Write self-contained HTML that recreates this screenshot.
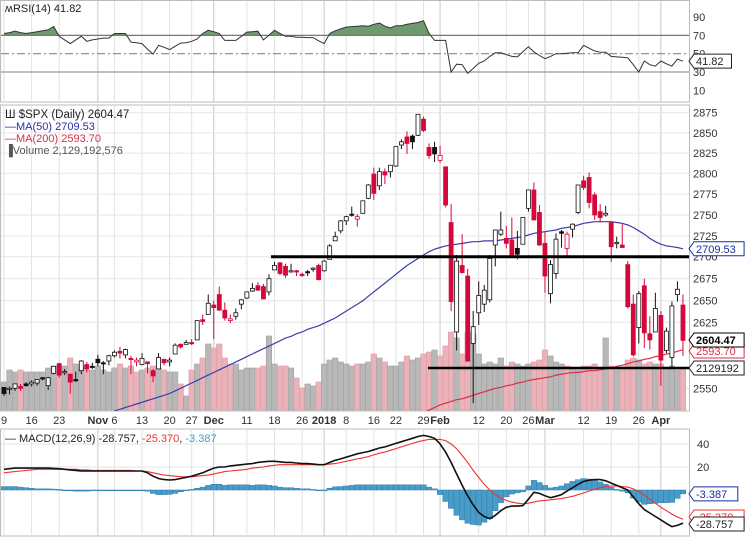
<!DOCTYPE html>
<html><head><meta charset="utf-8"><style>
html,body{margin:0;padding:0;background:#fff;}
svg{display:block;font-family:"Liberation Sans",sans-serif;}
</style></head><body>
<svg id="c" width="745" height="537" viewBox="0 0 745 537"></svg>
<script>
const opens=[2551,2549,2550,2552,2555,2555,2556,2562,2553,2567,2578,2568,2566,2560,2570,2577,2575,2583,2579,2581,2587,2592,2588,2584,2580,2577,2580,2570,2572,2583,2580,2589,2600,2600,2602,2605,2628,2634,2645,2657,2639,2627,2632,2646,2653,2661,2667,2666,2660,2685,2693,2689,2683,2684,2680,2683,2686,2690,2684,2697,2719,2731,2743,2751,2745,2752,2770,2799,2785,2802,2802,2809,2835,2845,2846,2847,2867,2832,2832,2816,2808,2741,2614,2690,2678,2601,2636,2646,2651,2714,2727,2722,2720,2710,2715,2758,2780,2753,2716,2658,2681,2730,2710,2733,2753,2791,2795,2774,2754,2750,2741,2716,2714,2691,2646,2619,2667,2612,2614,2633,2593,2585,2657,2645];
const highs=[2551,2552,2555,2555,2557,2559,2560,2563,2563,2575,2579,2572,2567,2569,2582,2580,2579,2588,2581,2588,2593,2597,2595,2587,2585,2590,2580,2572,2590,2583,2585,2601,2601,2605,2606,2627,2634,2657,2650,2666,2648,2634,2641,2652,2660,2670,2671,2669,2680,2694,2694,2692,2692,2685,2682,2685,2688,2692,2696,2715,2730,2744,2749,2760,2751,2767,2787,2807,2807,2806,2810,2833,2842,2852,2848,2873,2870,2837,2839,2834,2808,2763,2702,2727,2686,2638,2672,2668,2702,2732,2754,2737,2747,2731,2747,2780,2789,2762,2730,2696,2728,2732,2730,2740,2786,2797,2801,2777,2763,2761,2741,2724,2739,2695,2657,2661,2675,2632,2659,2638,2619,2649,2672,2657];
const lows=[2541,2543,2547,2547,2552,2552,2553,2559,2548,2566,2562,2565,2544,2557,2566,2568,2572,2575,2566,2576,2585,2584,2584,2566,2575,2576,2567,2557,2572,2576,2575,2589,2595,2600,2599,2605,2622,2634,2606,2639,2627,2624,2628,2640,2652,2660,2661,2652,2656,2685,2679,2676,2682,2678,2677,2678,2683,2673,2683,2697,2719,2728,2738,2748,2736,2752,2769,2768,2780,2787,2795,2808,2830,2824,2830,2846,2851,2818,2814,2813,2759,2638,2593,2681,2580,2533,2622,2637,2648,2689,2725,2710,2701,2697,2715,2754,2744,2713,2659,2647,2675,2711,2701,2723,2751,2780,2758,2744,2741,2748,2694,2710,2711,2641,2586,2601,2596,2594,2614,2553,2590,2573,2649,2587];
const closes=[2544,2550,2555,2550,2553,2557,2560,2561,2562,2575,2565,2569,2557,2560,2581,2572,2575,2579,2579,2587,2591,2590,2594,2584,2582,2584,2578,2564,2585,2579,2582,2599,2597,2602,2601,2627,2626,2647,2642,2639,2630,2629,2636,2651,2660,2664,2662,2652,2675,2690,2681,2679,2684,2683,2680,2682,2687,2674,2695,2713,2724,2743,2748,2751,2748,2767,2786,2776,2802,2798,2810,2833,2839,2837,2839,2873,2853,2822,2824,2822,2762,2649,2695,2682,2581,2620,2656,2662,2698,2732,2732,2716,2702,2703,2747,2780,2744,2714,2678,2691,2721,2728,2727,2739,2786,2783,2765,2750,2747,2752,2712,2717,2711,2643,2588,2658,2613,2605,2641,2582,2615,2644,2663,2604.47];
const volumes=[1.4,2.0,1.9,2.0,1.9,1.9,1.9,1.9,2.1,2.2,2.1,2.2,2.6,2.3,2.2,2.0,2.0,2.2,2.0,1.9,2.1,2.3,2.1,2.2,1.9,2.0,2.1,2.2,2.1,2.0,1.9,1.9,1.3,0.7,2.0,2.3,2.6,3.3,3.1,3.3,2.6,2.3,2.3,2.0,2.1,2.1,2.1,2.2,3.7,2.3,2.2,2.2,2.1,1.6,1.1,1.3,1.2,1.4,2.3,2.5,2.6,2.4,2.3,2.2,2.3,2.3,2.4,2.8,2.6,2.4,2.2,2.2,2.4,2.7,2.5,2.6,2.8,2.9,3.0,2.7,3.2,3.9,3.6,2.8,3.9,3.8,2.8,2.3,2.4,2.3,2.6,2.2,2.4,2.3,2.2,2.3,2.4,2.5,3.0,2.7,2.4,2.3,2.2,2.1,2.0,2.2,2.2,2.3,2.1,3.6,2.2,2.0,2.1,2.5,2.6,2.5,2.3,2.4,2.3,2.3,2.1,2.2,2.0,2.13];
const ma50=[null,null,null,null,null,null,null,null,null,null,null,null,null,null,null,null,null,null,null,null,2524,2526,2528,2530,2532,2534,2536,2538,2540,2542,2544,2547,2550,2553,2556,2559,2562,2565,2568,2571,2574,2577,2580,2583,2586,2589,2592,2595,2598,2601,2604,2607,2609,2612,2614,2617,2619,2621,2624,2627,2630,2634,2638,2642,2646,2650,2655,2660,2665,2670,2675,2680,2685,2690,2694,2698,2702,2706,2709,2711,2713,2714,2715,2716,2717,2718,2718,2719,2719,2719,2720,2721,2722,2723,2724,2726,2728,2729,2730,2731,2732,2734,2735,2736,2738,2740,2741,2742,2742,2742,2742,2741,2740,2738,2735,2731,2727,2722,2718,2715,2713,2712,2711,2709.53];
const ma200=[null,null,null,null,null,null,null,null,null,null,null,null,null,null,null,null,null,null,null,null,null,null,null,null,null,null,null,null,null,null,null,null,null,null,null,null,null,null,null,null,null,null,null,null,null,null,null,null,null,null,null,null,null,null,null,null,null,null,null,null,null,null,null,null,null,null,null,null,null,null,null,null,null,null,null,null,2522,2525,2528,2531,2533,2535,2537,2538,2540,2542,2544,2546,2548,2550,2551,2553,2554,2556,2557,2559,2560,2561,2562,2563,2565,2566,2567,2568,2568,2569,2570,2570,2571,2572,2573,2575,2576,2578,2580,2581,2583,2584,2586,2587,2589,2590,2592,2593.7];
const rsi=[72,73,74.5,73,72,73,74,75,76,79.5,69,65,61,65,69,63.5,65,66,67,67,72,72,72,62.5,62,61,55,49.5,59,57,54.5,58,61.5,62,63.5,66,72,75.5,74,72,64.5,64.5,64.5,69,73.5,74,74.5,65,70,75.5,72,69,69,68,68,67.5,67.5,64,61,72,75,77,79,79.5,80,80.5,80,82,83.5,80,78,80.5,80.5,82,83,84,86,72,64.5,64.5,64.5,30,38.5,38,28.5,34,39.5,42,47,51,51,49,47,46.5,52,57.5,52,48,44.5,47,50,50,50.5,51,51,59,56,53,51.5,51.5,47,46.5,46,45.5,38,30,42,38,36.5,42,39,36.5,44,41.82];
const macd=[18,18.5,19,19,19,19,19,19,19,18.8,18.5,18,17.5,17,16.5,16.5,16.5,16.5,16.5,16.5,16.5,16.5,16.5,16.5,16.5,16.5,15,12,10,9,8.7,9,10,11,12,13.5,15,17,19,20,20,21,21.5,22,22.5,23,24,24.5,25,25,24.5,24,24,23.5,23,23,22.5,22,22,24,25.8,27,28.5,30,31.5,32.5,33.5,35,36.5,37.5,39,40.5,42,43.5,45,46.5,47.5,46.5,45,40,33,24,14,4,-5,-13,-19.5,-23,-25,-22,-18,-15,-14,-14,-13.6,-8,-2,-3,-5,-6.7,-5.5,-4,-1,2,5,7.5,8.5,9,9,8,6,4,2,0,-6,-12,-17,-20,-23,-26,-29,-31.8,-30.8,-28.757];
const signal=[15,15.5,16,16.5,17,17.5,18,18,18,18,18,18,18,18,17.5,17.5,17,17,17,17,17,17,17,17,16.5,16.5,16,15,14,13,12.5,12,11.5,11.5,11.5,12,12.5,13,14,15,16,16.5,17,17.5,18,19,19.5,20,21,21.5,22,22,22,22,22,22,22,22,22,22.5,23,24,25,26,27,28,29,30.5,32,33,34.5,36,37.5,39,40.5,42,43,44,44,44,43,40,36,30,24,17,11,5,0,-4,-7,-9,-10.5,-11.5,-12,-11.5,-10.5,-9.5,-9,-8.5,-8,-7.5,-6.5,-5.5,-4,-2.5,-1,0.5,2,3,3.5,3.5,3,2.5,1,-1.5,-4.5,-8,-11.5,-15,-18,-21,-23.5,-25.37];
const tickLabels=["9","16","23","Nov","6","13","20","27","Dec","11","18","26","2018","8","16","22","29","Feb","12","20","26","Mar","12","19","26","Apr"];
const tickIdx=[0,5,10,17,20,25,30,34,38,44,49,54,58,62,67,71,76,79,86,91,95,98,105,110,115,119];
const priceTicks=[2875,2850,2825,2800,2775,2750,2725,2700,2675,2650,2625,2550];
const rsiTicks=[90,70,50,30,10];
const macdTicks=[40,20];

const NS="http://www.w3.org/2000/svg";
const svg=document.getElementById('c');
function el(tag,attrs,parent,text){const e=document.createElementNS(NS,tag);for(const k in attrs)e.setAttribute(k,attrs[k]);if(text!==undefined)e.textContent=text;(parent||svg).appendChild(e);return e;}
const isMajor=s=>/^[A-Z]/.test(s)||s.length===4;
const R=689;
const x=i=>4+i*5.52;
const pk=[2875,2800,2750,2700,2650,2625,2550,2500],py=[112.7,173.3,215,256.7,300.7,322.3,388.3,432];
function y(p){for(let k=0;k<pk.length-1;k++){if(p>=pk[k+1]||k==pk.length-2){const t=(pk[k]-p)/(pk[k]-pk[k+1]);return py[k]+t*(py[k+1]-py[k]);}}}
const yr=v=>17+(90-v)*0.917;
const ym=v=>490-v*1.15;
const yv=v=>410-v*20;

function panel(name,t,b){const g=el('g',{},svg);
 el('rect',{x:0.5,y:t,width:R,height:b-t,fill:'#fff',stroke:'#bbb'},g);return g;}
const gR=panel('rsi-panel',0.5,102);
const gP=panel('price-panel',105,411);
const gM=panel('macd-panel',429,536);

[gR,gP,gM].forEach((g,pi)=>{const tops=[1,105,429],bots=[102,411,536];
 tickIdx.forEach((ix,j)=>{const ln=el('line',{x1:x(ix),x2:x(ix),y1:tops[pi],y2:bots[pi],stroke:isMajor(tickLabels[j])?'#c8c8c8':'#e2e2e2','stroke-width':1},g);
 });});

priceTicks.forEach(p=>{const gl=el('line',{x1:1,x2:R,y1:y(p),y2:y(p),stroke:'#e6e6e6'},gP);
 const t=el('text',{x:693,y:y(p)+4,'font-size':11,fill:'#333'},svg,String(p));});
volumes.forEach((v,i)=>{const down=i>0&&closes[i]<closes[i-1];
 const b=el('rect',{x:x(i)-2.76,y:yv(v),width:5.52,height:410-yv(v),fill:down?'#eab3ba':'#b8b8b8',stroke:down?'#e09aa4':'#a0a0a0','stroke-width':0.6},gP);
 });
function line(arr,fn,color,g,name,w){let d='';arr.forEach((v,i)=>{if(v==null)return;d+=(d?'L':'M')+x(i).toFixed(1)+','+fn(v).toFixed(1);});
 const p=el('path',{d:d,fill:'none',stroke:color,'stroke-width':w||1.2},g);return p;}
const clipP=el('clipPath',{id:'cp'},svg);el('rect',{x:0,y:105,width:R,height:306},clipP);
const gPc=el('g',{'clip-path':'url(#cp)'},gP);
line(ma50,y,'#3b3fa8',gPc,'ma50-line');
line(ma200,y,'#d8304a',gPc,'ma200-line');
closes.forEach((c,i)=>{const o=opens[i],red=i>0&&c<closes[i-1],col=red?'#d4083a':'#111',hollow=c>o;
 const g=el('g',{},gPc);
 el('line',{x1:x(i),x2:x(i),y1:y(highs[i]),y2:y(lows[i]),stroke:col,'stroke-width':1},g);
 const top=y(Math.max(o,c)),h=Math.max(1.2,Math.abs(y(o)-y(c)));
 el('rect',{x:x(i)-2,y:top,width:4,height:h,fill:hollow?'#fff':col,stroke:col,'stroke-width':0.8},g);});
const r1=el('line',{x1:271,x2:R,y1:y(2700),y2:y(2700),stroke:'#000','stroke-width':3},gP);
const r2=el('line',{x1:428,x2:R,y1:368,y2:368,stroke:'#000','stroke-width':2.5},gP);

function tag(name,txt,ty,color,bold){const g=el('g',{},svg);
 const w=txt.length*6.3+6;el('path',{d:`M${R} ${ty} L${R+5} ${ty-7} L${R+5+w} ${ty-7} L${R+5+w} ${ty+7} L${R+5} ${ty+7} Z`,fill:'#fff',stroke:color,'stroke-width':1},g);
 el('text',{x:R+7,y:ty+4,'font-size':11,fill:bold?'#000':color,'font-weight':bold?'bold':'normal'},g,txt);}
tag('ma50-value-tag','2709.53',y(2709.53),'#1a2ea0');
tag('ma200-value-tag','2593.70',351,'#d8304a');
tag('price-value-tag','2604.47',340,'#000',true);
tag('volume-value-tag','2129192',368,'#222');

const lg=el('g',{'font-size':11},svg);
el('text',{x:5,y:118,fill:'#222','font-size':11.5},lg,'\u0428 $SPX (Daily) 2604.47');
el('text',{x:5,y:130,fill:'#2a2ea8'},lg,'\u2014MA(50) 2709.53');
el('text',{x:5,y:142,fill:'#d8304a'},lg,'\u2014MA(200) 2593.70');
el('text',{x:5,y:154,fill:'#555'},lg,'\u2590Volume 2,129,192,576');

rsiTicks.forEach(v=>{const t=el('text',{x:693,y:yr(v)+4,'font-size':11,fill:'#333'},svg,String(v));});
const cr=el('clipPath',{id:'cr'},svg);el('rect',{x:0,y:0,width:R,height:yr(70)},cr);
let ad='M'+x(0)+','+yr(70);rsi.forEach((v,i)=>ad+='L'+x(i).toFixed(1)+','+yr(v).toFixed(1));ad+='L'+x(rsi.length-1)+','+yr(70)+'Z';
const af=el('path',{d:ad,fill:'#6f9a6f','clip-path':'url(#cr)'},gR);
[[70,'#777',''],[30,'#999',''],[50,'#888','8 3 2 3']].forEach(a=>{const l=el('line',{x1:1,x2:R,y1:yr(a[0]),y2:yr(a[0]),stroke:a[1],'stroke-width':1.2,'stroke-dasharray':a[2]},gR);});
line(rsi,yr,'#333',gR,'rsi-line',1);
el('text',{x:5,y:12,'font-size':11,fill:'#222'},gR,'\u028DRSI(14) 41.82');
tag('rsi-value-tag','41.82',yr(41.82),'#222');

tickLabels.forEach((s,j)=>{const b=isMajor(s);const t=el('text',{x:x(tickIdx[j]),y:424,'font-size':11,fill:'#333','text-anchor':'middle','font-weight':b?'bold':'normal'},svg,s);});

macdTicks.forEach(v=>{el('line',{x1:1,x2:R,y1:ym(v),y2:ym(v),stroke:'#e6e6e6'},gM);const t=el('text',{x:697,y:ym(v)+4,'font-size':11,fill:'#333'},svg,String(v));});
const cm=el('clipPath',{id:'cm'},svg);el('rect',{x:0,y:430,width:R,height:106},cm);
const gMc=el('g',{'clip-path':'url(#cm)'},gM);
macd.forEach((m,i)=>{const h=m-signal[i];const y0=ym(0),y1=ym(h);
 const b=el('rect',{x:x(i)-2.76,y:Math.min(y0,y1),width:5.52,height:Math.max(0.8,Math.abs(y1-y0)),fill:'#4a9cc8',stroke:'#2f7fae','stroke-width':0.5},gMc);
 });
line(signal,ym,'#f03030',gMc,'macd-signal-line',1.1);
line(macd,ym,'#111',gMc,'macd-line',1.6);
const mt=el('text',{x:5,y:442,'font-size':11,fill:'#222'},gM);
el('tspan',{},mt,'\u2014 MACD(12,26,9) -28.757, ');el('tspan',{fill:'#f03030'},mt,'-25.370');el('tspan',{},mt,', ');el('tspan',{fill:'#3aa0d8'},mt,'-3.387');
tag('macd-hist-tag','-3.387',ym(-3.387),'#1a2ea0');
tag('macd-signal-tag','-25.370',517,'#f03030');
tag('macd-value-tag','-28.757',524,'#222');
</script>
</body></html>
